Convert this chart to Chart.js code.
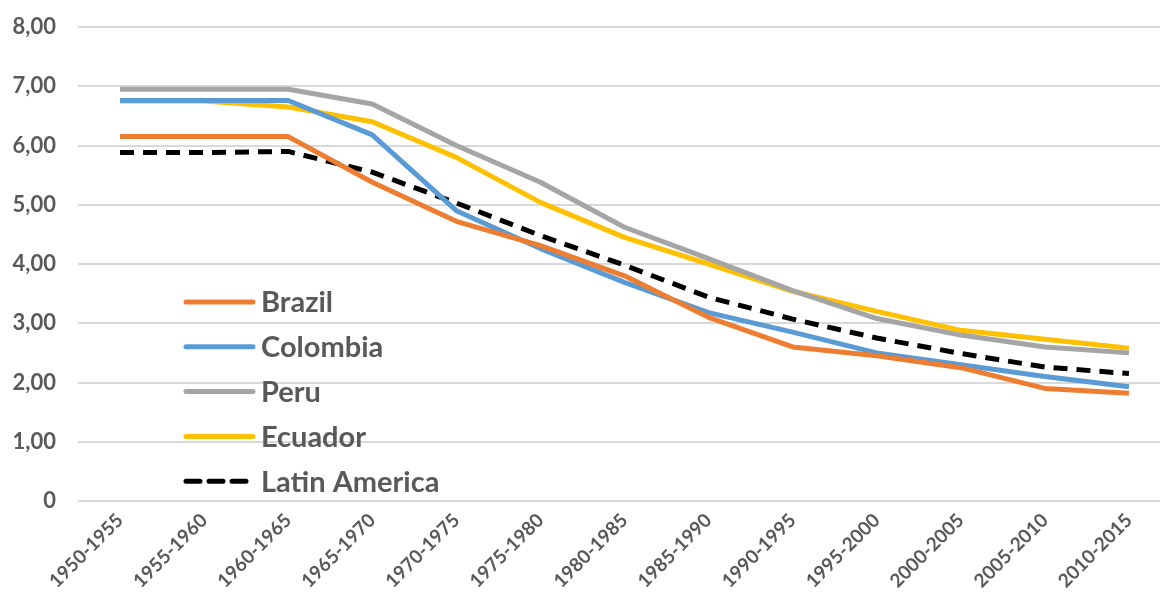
<!DOCTYPE html>
<html>
<head>
<meta charset="utf-8">
<script src="https://cdn.jsdelivr.net/npm/chart.js@4"></script>
<style>
  html, body { margin: 0; padding: 0; background: #fff; overflow: hidden; }
  #wrap { position: absolute; left: 0; top: 0; width: 1175px; height: 605px; }
</style>
</head>
<body>
<div id="wrap"><canvas id="fertilityChart"></canvas></div>
<script>
const periods = ["1950-1955", "1955-1960", "1960-1965", "1965-1970", "1970-1975", "1975-1980", "1980-1985",
                 "1985-1990", "1990-1995", "1995-2000", "2000-2005", "2005-2010", "2010-2015"];
const brazil   = [6.15, 6.15, 6.15, 5.38, 4.72, 4.31, 3.80, 3.10, 2.60, 2.45, 2.25, 1.90, 1.82];
const colombia = [6.76, 6.76, 6.76, 6.18, 4.90, 4.26, 3.69, 3.18, 2.85, 2.50, 2.30, 2.10, 1.93];
const peru     = [6.95, 6.95, 6.95, 6.70, 6.00, 5.38, 4.62, 4.09, 3.55, 3.08, 2.80, 2.60, 2.50];
const ecuador  = [6.75, 6.75, 6.65, 6.40, 5.80, 5.04, 4.45, 4.00, 3.54, 3.20, 2.88, 2.73, 2.58];
const latinAm  = [5.88, 5.88, 5.90, 5.55, 5.03, 4.48, 3.98, 3.44, 3.07, 2.75, 2.49, 2.26, 2.15];
const yTicks   = [0, 1, 2, 3, 4, 5, 6, 7, 8];

const textColor = "#595959";
const fontFamily = "Lato, 'Open Sans', sans-serif";

// legend drawn inside the plot like the original
const insideLegend = {
    id: "insideLegend",
    afterDraw(chart) {
        const ctx = chart.ctx;
        ctx.save();
        chart.data.datasets.forEach((ds, i) => {
            let y = 302 + i * 44.8;
            ctx.strokeStyle = ds.borderColor;
            ctx.lineWidth = 5;
            ctx.lineCap = "round";
            ctx.setLineDash(ds.borderDash || []);
            ctx.beginPath();
            ctx.moveTo(186, y);
            ctx.lineTo(ds.borderDash ? 250 : 253, y);
            ctx.stroke();
            ctx.setLineDash([]);
            ctx.fillStyle = textColor;
            ctx.font = "bold 29px " + fontFamily;
            ctx.textBaseline = "middle";
            ctx.fillText(ds.label, 261, y + 1);
        });
        ctx.restore();
    }
};

let ctx = document.getElementById("fertilityChart").getContext("2d");
let chart = new Chart(ctx, {
    type: "line",
    data: {
        labels: periods,
        datasets: [
            { label: "Brazil", data: brazil, borderColor: "#ED7D31" },
            { label: "Colombia", data: colombia, borderColor: "#5B9BD5" },
            { label: "Peru", data: peru, borderColor: "#A5A5A5" },
            { label: "Ecuador", data: ecuador, borderColor: "#FFC000" },
            { label: "Latin America", data: latinAm, borderColor: "#000000", borderDash: [14, 9] }
        ]
    },
    options: {
        responsive: true,
        maintainAspectRatio: false,
        animation: false,
        layout: { padding: { top: 27, right: 4, left: 0, bottom: 0 } },
        elements: {
            line: { borderWidth: 5, tension: 0, fill: false, borderJoinStyle: "round" },
            point: { radius: 0 }
        },
        plugins: {
            legend: { display: false },
            tooltip: { enabled: false }
        },
        scales: {
            x: {
                offset: true,
                grid: { display: false, drawTicks: false },
                border: { display: false },
                ticks: {
                    color: textColor,
                    font: { family: fontFamily, size: 19, weight: "bold" },
                    minRotation: 45,
                    maxRotation: 45,
                    padding: 8,
                    autoSkip: false
                },
                afterFit(scale) { scale.height = 104; }
            },
            y: {
                min: 0,
                max: 8,
                afterBuildTicks(scale) { scale.ticks = yTicks.map(v => ({ value: v })); },
                grid: { color: "#d9d9d9", lineWidth: 2, drawTicks: false },
                border: { display: false },
                ticks: {
                    color: textColor,
                    font: { family: fontFamily, size: 22, weight: "bold" },
                    padding: 22,
                    callback: v => v === 0 ? "0" : v.toFixed(2).replace(".", ",")
                },
                afterFit(scale) {
                    scale.width = 78;
                    scale.paddingTop = 0;
                    scale.paddingBottom = 0;
                }
            }
        }
    },
    plugins: [insideLegend]
});
</script>
</body>
</html>
